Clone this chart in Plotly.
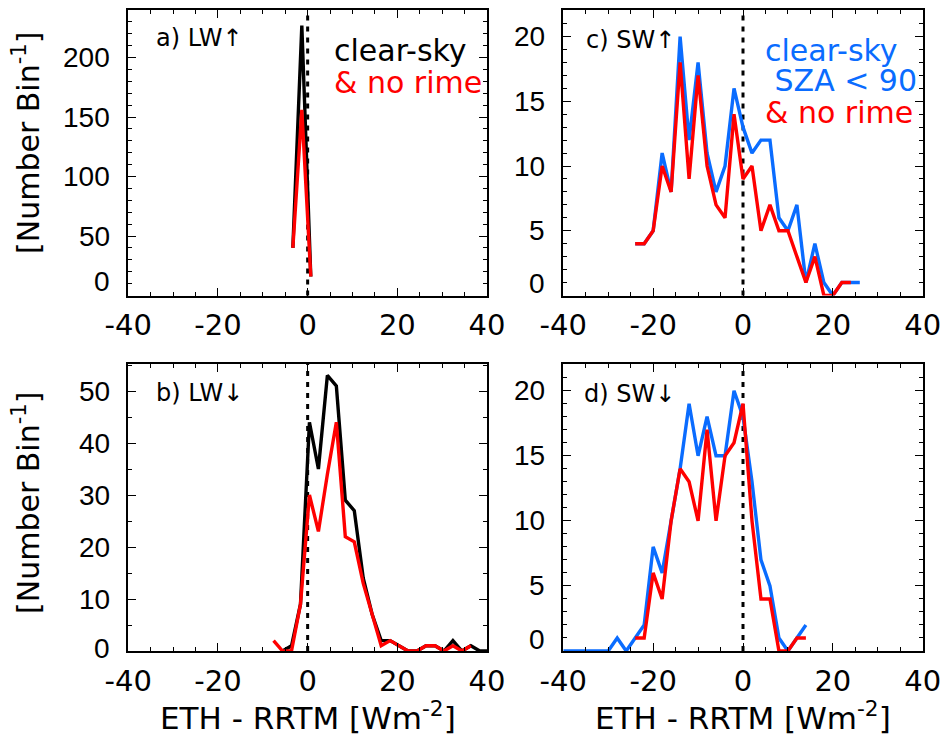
import plotly.graph_objects as go

W, H = 944, 736

# ---- histogram data: bin centres [W m-2] and counts per bin ----
# a) LW up
lwup_x = [-3.3, -1.3, 0.7]
lwup_clear = [40, 227, 16]
lwup_norime = [40, 156, 16]

# b) LW down
lwdn_x_clear = [-5.6, -3.6, -1.6, 0.4, 2.4, 4.4, 6.4, 8.4, 10.4, 12.4, 14.4, 16.4,
                18.4, 20.4, 22.4, 24.4, 26.4, 28.4, 30.4, 32.4, 34.4, 36.4, 38.4, 40.4]
lwdn_clear = [0, 1, 9, 44, 35, 53, 51, 29, 27, 14, 7, 2,
              2, 1, 0, 0, 1, 1, 0, 2, 0, 1, 0, 0]
lwdn_x_norime = [-7.6, -5.6, -3.6, -1.6, 0.4, 2.4, 4.4, 6.4, 8.4, 10.4, 12.4, 14.4,
                 16.4, 18.4, 20.4, 22.4, 24.4, 26.4, 28.4, 30.4, 32.4, 34.4, 36.4]
lwdn_norime = [2, 0, 0, 9, 30, 23, 34, 44, 22, 21, 13, 7,
               1, 2, 1, 0, 0, 1, 1, 0, 1, 0, 1]

# c) SW up
swup_x_clear = [-24, -22, -20, -18, -16, -14, -12, -10, -8, -6, -4, -2, 0,
                2, 4, 6, 8, 10, 12, 14, 16, 18, 20, 22, 24, 26]
swup_clear = [4, 4, 5, 11, 8, 20, 12, 18, 11, 8, 10, 16, 13,
              11, 12, 12, 6, 5, 7, 1, 4, 1, 0, 1, 1, 1]
swup_x_norime = [-24, -22, -20, -18, -16, -14, -12, -10, -8, -6, -4, -2, 0,
                 2, 4, 6, 8, 10, 12, 14, 16, 18, 20, 22, 24]
swup_norime = [4, 4, 5, 10, 8, 18, 9, 17, 10, 7, 6, 14, 9,
               10, 5, 7, 5, 5, 3, 1, 3, 0, 0, 1, 1]

# d) SW down
swdn_x_clear = [-40, -38, -36, -34, -32, -30, -28, -26, -24, -22, -20, -18, -16, -14,
                -12, -10, -8, -6, -4, -2, 0, 2, 4, 6, 8, 10, 12, 14]
swdn_clear = [0, 0, 0, 0, 0, 0, 1, 0, 1, 2, 8, 6, 10, 14,
              19, 15, 18, 15, 15, 20, 18, 13, 7, 5, 1, 0, 1, 2]
swdn_x_norime = [-24, -22, -20, -18, -16, -14, -12, -10, -8, -6, -4, -2, 0,
                 2, 4, 6, 8, 10, 12, 14]
swdn_norime = [1, 1, 6, 4, 10, 14, 13, 10, 17, 10, 15, 16, 19,
               10, 4, 4, 0, 0, 1, 1]

# axis ticks
x_ticks = [-40, -20, 0, 20, 40]
lwup_yticks = [0, 50, 100, 150, 200]
lwdn_yticks = [0, 10, 20, 30, 40, 50]
sw_yticks = [0, 5, 10, 15, 20]

# ---- styling ----
WIDE_FONT = "DejaVu Sans, Verdana, sans-serif"
NARROW_FONT = "Liberation Sans, Arial, Helvetica, sans-serif"
BLACK = "#000000"
RED = "#ff0000"
BLUE = "#0a6cff"
LW = 3.4

fig = go.Figure()

def add_line(x, y, color, xa, ya):
    fig.add_trace(go.Scatter(x=x, y=y, mode="lines",
                             line=dict(color=color, width=LW),
                             xaxis=xa, yaxis=ya, showlegend=False,
                             hoverinfo="skip"))

# panel a (x/y), c (x2/y2), b (x3/y3), d (x4/y4)
add_line(lwup_x, lwup_clear, BLACK, "x", "y")
add_line(lwup_x, lwup_norime, RED, "x", "y")
add_line(swup_x_clear, swup_clear, BLUE, "x2", "y2")
add_line(swup_x_norime, swup_norime, RED, "x2", "y2")
add_line(lwdn_x_clear, lwdn_clear, BLACK, "x3", "y3")
add_line(lwdn_x_norime, lwdn_norime, RED, "x3", "y3")
add_line(swdn_x_clear, swdn_clear, BLUE, "x4", "y4")
add_line(swdn_x_norime, swdn_norime, RED, "x4", "y4")

# panel frame positions in pixels
left_x = (128.3, 487.0)
right_x = (563.3, 922.7)
top_y = (10.0, 295.5)
bot_y = (364.0, 651.0)

def xdom(px):
    return [px[0] / W, px[1] / W]

def ydom(py):
    return [1 - py[1] / H, 1 - py[0] / H]

common = dict(showline=True, linecolor=BLACK, linewidth=1.5, mirror="allticks",
              ticks="inside", ticklen=8, tickwidth=1.3, tickcolor=BLACK,
              showgrid=False, zeroline=False, automargin=False)

def xaxis(dom, anchor):
    return dict(common, domain=xdom(dom), anchor=anchor, range=[-40, 40],
                tickvals=x_ticks, ticktext=[str(v) for v in x_ticks],
                ticklabelstandoff=3,
                tickfont=dict(family=WIDE_FONT, size=29, color=BLACK),
                minor=dict(ticks="inside", ticklen=4, tickwidth=1.1,
                           tickcolor=BLACK, dtick=5, showgrid=False))

def yaxis(dom, anchor, rng, ticks, minor):
    # labels are placed as annotations below so the lowest one can sit
    # a little higher, clear of the x tick labels
    return dict(common, domain=ydom(dom), anchor=anchor, range=rng,
                tickvals=ticks, showticklabels=False,
                minor=dict(ticks="inside", ticklen=4, tickwidth=1.1,
                           tickcolor=BLACK, dtick=minor, showgrid=False))

fig.update_layout(
    width=W, height=H,
    margin=dict(l=0, r=0, t=0, b=0, autoexpand=False),
    paper_bgcolor="white", plot_bgcolor="white",
    font=dict(family=WIDE_FONT, color=BLACK),
    xaxis=xaxis(left_x, "y"),
    yaxis=yaxis(top_y, "x", [0, 240], lwup_yticks, 10),
    xaxis2=xaxis(right_x, "y2"),
    yaxis2=yaxis(top_y, "x2", [0, 22.05], sw_yticks, 1),
    xaxis3=xaxis(left_x, "y3"),
    yaxis3=yaxis(bot_y, "x3", [0, 55.2], lwdn_yticks, 5),
    xaxis4=xaxis(right_x, "y4"),
    yaxis4=yaxis(bot_y, "x4", [0, 22.05], sw_yticks, 1),
)

# y tick labels
def y_labels(ya, ticks, axis_px, zero_lift):
    for v in ticks:
        fig.add_annotation(text=str(v), xref="paper", yref=ya,
                           x=(axis_px - 16) / W, y=v,
                           xanchor="right", yanchor="middle", showarrow=False,
                           yshift=zero_lift if v == 0 else 0,
                           font=dict(family=NARROW_FONT, size=28, color=BLACK))

y_labels("y", lwup_yticks, left_x[0], 14)
y_labels("y2", sw_yticks, right_x[0], 12)
y_labels("y3", lwdn_yticks, left_x[0], 3)
y_labels("y4", sw_yticks, right_x[0], 12)

# dotted zero lines
for xa, ya in [("x", "y"), ("x2", "y2"), ("x3", "y3"), ("x4", "y4")]:
    fig.add_shape(type="line", xref=xa, yref=f"{ya} domain", x0=0, x1=0, y0=0, y1=1,
                  line=dict(color=BLACK, width=3, dash="5px,6px"), layer="below")

def label(text, x, y, size, color=BLACK, xanchor="left", angle=0):
    fig.add_annotation(text=text, x=x / W, y=1 - y / H, xref="paper", yref="paper",
                       showarrow=False, xanchor=xanchor, yanchor="middle",
                       textangle=angle,
                       font=dict(family=WIDE_FONT, size=size, color=color))

# panel labels
label("a) LW\u2191", 154, 38, 24)
label("b) LW\u2193", 154, 393, 24)
label("c) SW\u2191", 584, 40, 24)
label("d) SW\u2193", 582, 394, 24)

# selection legends
label("clear-sky", 332, 50, 30)
label("& no rime", 332, 82, 30, RED)
label("clear-sky", 763, 50, 30, BLUE)
label(" SZA < 90", 763, 80, 30, BLUE)
label("& no rime", 763, 113, 30, RED)

# axis titles
label("ETH - RRTM [Wm<sup>-2</sup>]", (left_x[0] + left_x[1]) / 2, 716, 31,
      xanchor="center")
label("ETH - RRTM [Wm<sup>-2</sup>]", (right_x[0] + right_x[1]) / 2, 716, 31,
      xanchor="center")
label("[Number Bin<sup>-1</sup>]", 26, 143, 30, xanchor="center", angle=-90)
label("[Number Bin<sup>-1</sup>]", 26, 503, 30, xanchor="center", angle=-90)

fig.write_html("out.html")
